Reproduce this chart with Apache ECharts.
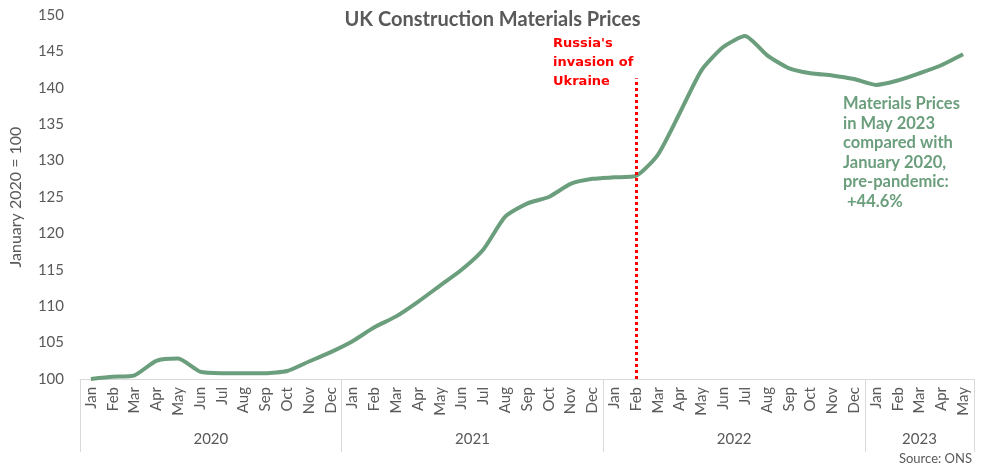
<!DOCTYPE html>
<html><head><meta charset="utf-8">
<script src="https://cdn.jsdelivr.net/npm/echarts@6/dist/echarts.min.js"></script>
<style>html,body{margin:0;padding:0;background:#fff}#c{width:985px;height:467px}</style>
</head><body><div id="c"></div>
<script>
const months = ['Jan','Feb','Mar','Apr','May','Jun','Jul','Aug','Sep','Oct','Nov','Dec',
  'Jan','Feb','Mar','Apr','May','Jun','Jul','Aug','Sep','Oct','Nov','Dec',
  'Jan','Feb','Mar','Apr','May','Jun','Jul','Aug','Sep','Oct','Nov','Dec',
  'Jan','Feb','Mar','Apr','May'];
const prices = [100.0,100.3,100.5,102.5,102.8,101.0,100.8,100.8,100.8,101.1,102.4,103.7,
  105.2,107.1,108.6,110.6,112.8,115.0,117.8,122.3,124.1,125.0,126.8,127.5,
  127.7,127.9,130.8,136.5,142.4,145.6,147.1,144.5,142.7,142.0,141.7,141.2,
  140.4,141.0,142.0,143.1,144.6];
const years = ['2020','2021','2022','2023'];
const yearCenters = [6, 18, 30, 38.5];
const yearBounds = [0, 12, 24, 36, 41];
const yTicks = [100,105,110,115,120,125,130,135,140,145,150];
const invasionIndex = 25;
const invasionRange = [100, 141.3];

const green = '#6b9e7c';
const grey = '#595959';
const font = 'Lato';

const chart = echarts.init(document.getElementById('c'));
chart.setOption({
  animation: false,
  title: {
    text: 'UK Construction Materials Prices',
    left: 'center', top: 5,
    textStyle: {fontFamily: font, fontWeight: 'bold', fontSize: 20, color: grey}
  },
  grid: {left: 79, right: 11, top: 15, bottom: 88},
  xAxis: [{
    type: 'category', data: months, boundaryGap: true,
    axisLine: {lineStyle: {color: '#d9d9d9', width: 1}},
    axisTick: {show: false},
    axisLabel: {rotate: 90, interval: 0, margin: 8, fontFamily: font, fontSize: 15, color: grey}
  }, {
    type: 'value', min: 0, max: months.length, position: 'bottom',
    axisLine: {show: false},
    splitLine: {show: false},
    axisTick: {show: true, customValues: yearBounds, length: 73, lineStyle: {color: '#d9d9d9'}},
    axisLabel: {customValues: yearCenters, margin: 53, fontFamily: font, fontSize: 15, color: grey,
      formatter: v => years[yearCenters.indexOf(v)]}
  }],
  yAxis: {
    type: 'value', min: yTicks[0], max: yTicks[yTicks.length - 1], interval: 5,
    name: 'January 2020 = 100', nameLocation: 'middle', nameGap: 56, nameRotate: 90,
    nameTextStyle: {fontFamily: font, fontSize: 16, color: grey},
    axisLine: {show: false}, axisTick: {show: false}, splitLine: {show: false},
    axisLabel: {margin: 16, fontFamily: font, fontSize: 15, color: grey}
  },
  series: [{
    type: 'line', data: prices, xAxisIndex: 0, smooth: 0.2, symbol: 'none',
    lineStyle: {color: green, width: 4},
    markLine: {
      silent: true, symbol: 'none', label: {show: false},
      lineStyle: {color: '#ff0000', type: [3, 3], width: 3},
      data: [[{coord: [invasionIndex, invasionRange[0]]}, {coord: [invasionIndex, invasionRange[1]]}]]
    }
  }],
  graphic: [{
    type: 'text', left: 553, top: 34,
    style: {text: "Russia's\ninvasion of\nUkraine", fill: '#ff0000', font: 'bold 13px "DejaVu Sans"', lineHeight: 19}
  }, {
    type: 'text', left: 843, top: 94,
    style: {text: 'Materials Prices\nin May 2023\ncompared with\nJanuary 2020,\npre-pandemic:\n +44.6%', fill: green,
      font: 'bold 16.5px Lato', lineHeight: 19.5}
  }, {
    type: 'text', right: 13, top: 452,
    style: {text: 'Source: ONS', fill: grey, font: '13px Lato'}
  }]
});
</script></body></html>
